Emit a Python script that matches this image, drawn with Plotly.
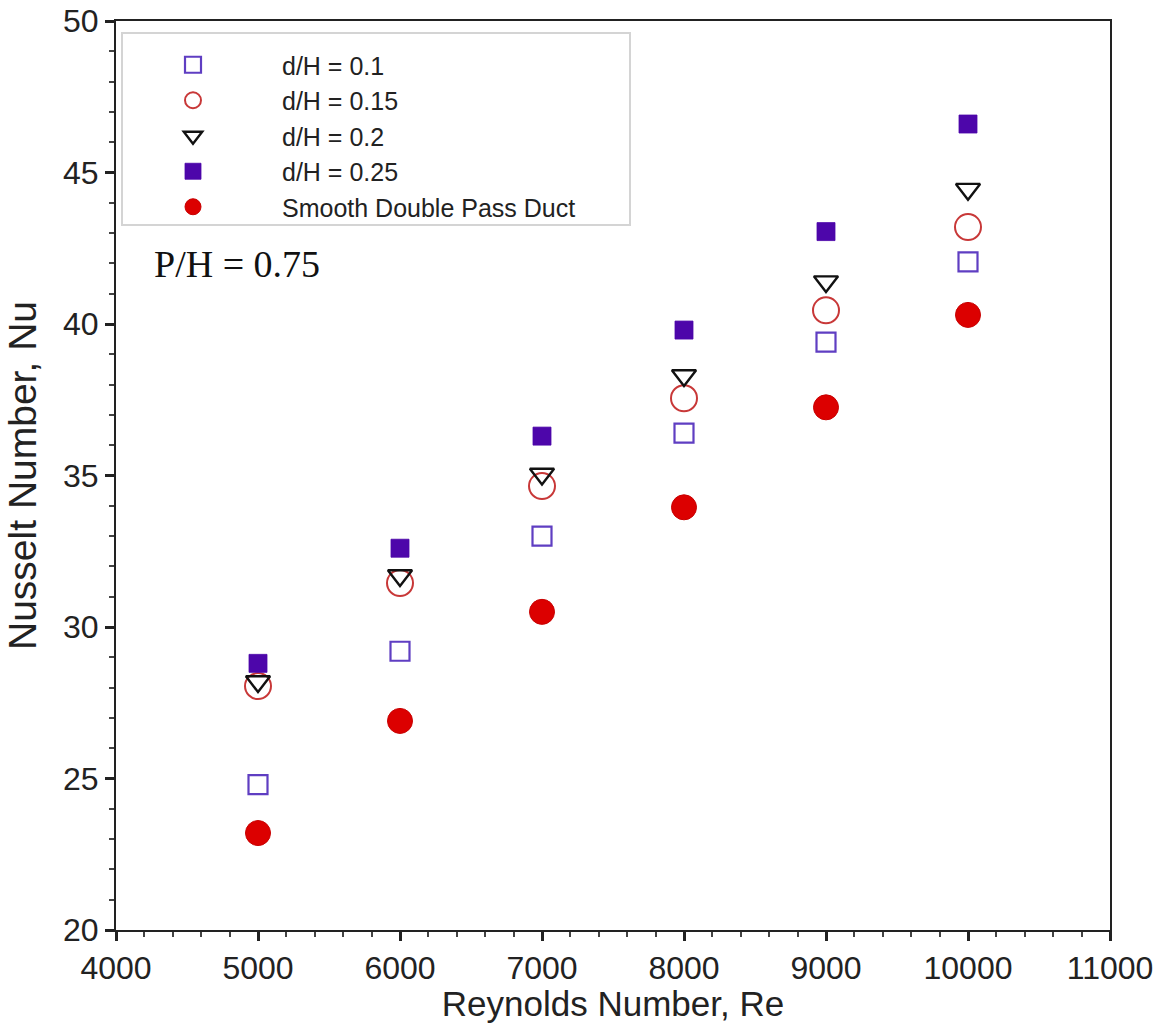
import plotly.graph_objects as go

# Reynolds numbers tested
reynolds = [5000, 6000, 7000, 8000, 9000, 10000]

# Nusselt numbers for each rib diameter ratio and the smooth duct
nu_d010 = [24.8, 29.2, 33.0, 36.4, 39.4, 42.05]
nu_d015 = [28.05, 31.45, 34.65, 37.55, 40.45, 43.2]
nu_d020 = [28.2, 31.7, 35.05, 38.3, 41.4, 44.45]
nu_d025 = [28.8, 32.6, 36.3, 39.8, 43.05, 46.6]
nu_smooth = [23.2, 26.9, 30.5, 33.95, 37.25, 40.3]

series_names = ["d/H = 0.1", "d/H = 0.15", "d/H = 0.2", "d/H = 0.25",
                "Smooth Double Pass Duct"]

x_ticks = [4000, 5000, 6000, 7000, 8000, 9000, 10000, 11000]
x_ticklabels = ["4000", "5000", "6000", "7000", "8000", "9000", "10000", "11000"]
y_ticks = [20, 25, 30, 35, 40, 45, 50]

SANS = "Liberation Sans, Arial, sans-serif"
SERIF = "Liberation Serif, Times New Roman, serif"

# plot-area geometry in pixels (for placing the legend frame and note)
L, R, T, B = 116, 1110, 21, 930
W, H = R - L, B - T


def px_x(px):
    return (px - L) / W


def px_y(py):
    return (B - py) / H


fig = go.Figure()

styles = [
    (nu_d010, dict(symbol="square-open", size=19, color="#5f3ec2",
                   line=dict(width=2.2, color="#5f3ec2"))),
    (nu_d015, dict(symbol="circle-open", size=26, color="#c83838",
                   line=dict(width=2, color="#c83838"))),
    (nu_d020, dict(symbol="triangle-down-open", size=21, color="#111111",
                   line=dict(width=2.4, color="#111111"))),
    (nu_d025, dict(symbol="square", size=18, color="#4d06aa",
                   line=dict(width=0.8, color="#4d06aa"))),
    (nu_smooth, dict(symbol="circle", size=25, color="#dc0000",
                     line=dict(width=1, color="#c80000"))),
]

for name, (vals, marker) in zip(series_names, styles):
    fig.add_trace(go.Scatter(x=reynolds, y=vals, mode="markers", name=name,
                             marker=marker))

# legend frame
fig.add_shape(type="rect", xref="paper", yref="paper",
              x0=px_x(122), x1=px_x(630), y0=px_y(225), y1=px_y(33),
              line=dict(color="#d4d4d4", width=2), fillcolor="rgba(0,0,0,0)")

fig.add_annotation(text="P/H = 0.75", xref="paper", yref="paper",
                   x=px_x(152), y=px_y(264),
                   xanchor="left", yanchor="middle", showarrow=False,
                   font=dict(family=SERIF, size=38, color="#111111"))

axis_common = dict(
    showline=True, linecolor="#222222", linewidth=2, mirror=True,
    ticks="outside", ticklen=9, tickwidth=3, tickcolor="#222222",
    showgrid=False, zeroline=False, automargin=False,
    tickfont=dict(family=SANS, size=32, color="#222222"),
)

fig.update_xaxes(
    range=[4000, 11000], tickvals=x_ticks, ticktext=x_ticklabels,
    title=dict(text="Reynolds Number, Re", standoff=4,
               font=dict(family=SANS, size=35, color="#222222")),
    minor=dict(dtick=200, ticks="outside", ticklen=5, tickwidth=1.5,
               tickcolor="#444444"),
    **axis_common,
)
fig.update_yaxes(
    range=[20, 50], tickvals=y_ticks,
    title=dict(text="Nusselt Number, Nu", standoff=14,
               font=dict(family=SANS, size=39, color="#222222")),
    minor=dict(dtick=1, ticks="outside", ticklen=5, tickwidth=1.5,
               tickcolor="#444444"),
    **axis_common,
)

fig.update_layout(
    width=1163, height=1023,
    margin=dict(l=L, r=1163 - R, t=T, b=1023 - B),
    paper_bgcolor="white", plot_bgcolor="white",
    showlegend=True,
    legend=dict(
        x=px_x(104), y=px_y(42), xanchor="left", yanchor="top",
        bgcolor="rgba(0,0,0,0)", borderwidth=0,
        itemwidth=168, tracegroupgap=0,
        font=dict(family=SANS, size=25, color="#222222"),
    ),
)

fig.write_html("out.html")
